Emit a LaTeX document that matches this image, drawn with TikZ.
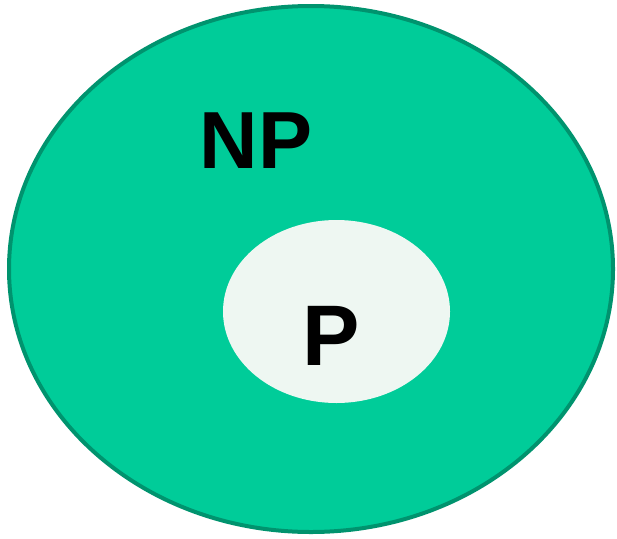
\documentclass[tikz,border=0pt]{standalone}
\usepackage{fontspec}
\setmainfont{Liberation Sans}
\usetikzlibrary{shapes.geometric}
\definecolor{ClassFill}{HTML}{00CC99}
\definecolor{ClassLine}{HTML}{00936E}
\definecolor{InnerFill}{HTML}{EEF7F2}

\begin{document}
\begin{tikzpicture}[x=1pt,y=-1pt,
    classset/.style={ellipse,inner sep=0pt},
    classlabel/.style={text=black,inner sep=0pt}]
        \useasboundingbox (0,0) rectangle (617,538);

        \node[classset,fill=ClassFill,draw=ClassLine,line width=4pt,
          minimum width=604pt,minimum height=526pt] (np) at (311,269) {};
        \node[classset,fill=InnerFill,
          minimum width=227pt,minimum height=183pt] (p) at (336.5,311.5) {};

        \node[classlabel,font=\bfseries\fontsize{81}{90}\selectfont]
          (nplabel) at (256,141) {NP};
        \node[classlabel,font=\bfseries\fontsize{86}{95}\selectfont]
          (plabel) at (331.5,336) {P};
      \end{tikzpicture}
\end{document}
